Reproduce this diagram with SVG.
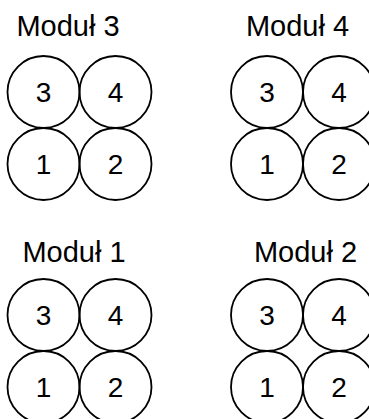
<svg xmlns="http://www.w3.org/2000/svg" width="369" height="419" viewBox="0 0 369 419">
<style>
.c{fill:none;stroke:#000;stroke-width:1.8}
.n{font-family:"Liberation Sans",Arial,sans-serif;font-size:28px;fill:#000;text-anchor:middle}
.t{font-family:"Liberation Sans",Arial,sans-serif;font-size:29px;fill:#000;text-anchor:middle}
</style>
<rect width="369" height="419" fill="#fff"/>
<g id="modul3">
<text class="t" x="68" y="36">Moduł 3</text>
<g id="m3-3"><circle class="c" cx="43.5" cy="92" r="36"/><text class="n" x="43.5" y="102">3</text></g>
<g id="m3-4"><circle class="c" cx="115.5" cy="92" r="36"/><text class="n" x="115.5" y="102">4</text></g>
<g id="m3-1"><circle class="c" cx="43.5" cy="164" r="36"/><text class="n" x="43.5" y="174">1</text></g>
<g id="m3-2"><circle class="c" cx="115.5" cy="164" r="36"/><text class="n" x="115.5" y="174">2</text></g>
</g>
<g id="modul4">
<text class="t" x="297.5" y="36">Moduł 4</text>
<g id="m4-3"><circle class="c" cx="267" cy="92" r="36"/><text class="n" x="267" y="102">3</text></g>
<g id="m4-4"><circle class="c" cx="339" cy="92" r="36"/><text class="n" x="339" y="102">4</text></g>
<g id="m4-1"><circle class="c" cx="267" cy="164" r="36"/><text class="n" x="267" y="174">1</text></g>
<g id="m4-2"><circle class="c" cx="339" cy="164" r="36"/><text class="n" x="339" y="174">2</text></g>
</g>
<g id="modul1">
<text class="t" x="74" y="262">Moduł 1</text>
<g id="m1-3"><circle class="c" cx="43.5" cy="315" r="36"/><text class="n" x="43.5" y="325">3</text></g>
<g id="m1-4"><circle class="c" cx="115.5" cy="315" r="36"/><text class="n" x="115.5" y="325">4</text></g>
<g id="m1-1"><circle class="c" cx="43.5" cy="387" r="36"/><text class="n" x="43.5" y="397">1</text></g>
<g id="m1-2"><circle class="c" cx="115.5" cy="387" r="36"/><text class="n" x="115.5" y="397">2</text></g>
</g>
<g id="modul2">
<text class="t" x="305.5" y="262">Moduł 2</text>
<g id="m2-3"><circle class="c" cx="267" cy="315" r="36"/><text class="n" x="267" y="325">3</text></g>
<g id="m2-4"><circle class="c" cx="339" cy="315" r="36"/><text class="n" x="339" y="325">4</text></g>
<g id="m2-1"><circle class="c" cx="267" cy="387" r="36"/><text class="n" x="267" y="397">1</text></g>
<g id="m2-2"><circle class="c" cx="339" cy="387" r="36"/><text class="n" x="339" y="397">2</text></g>
</g>
<g id="connectors"/>
</svg>
